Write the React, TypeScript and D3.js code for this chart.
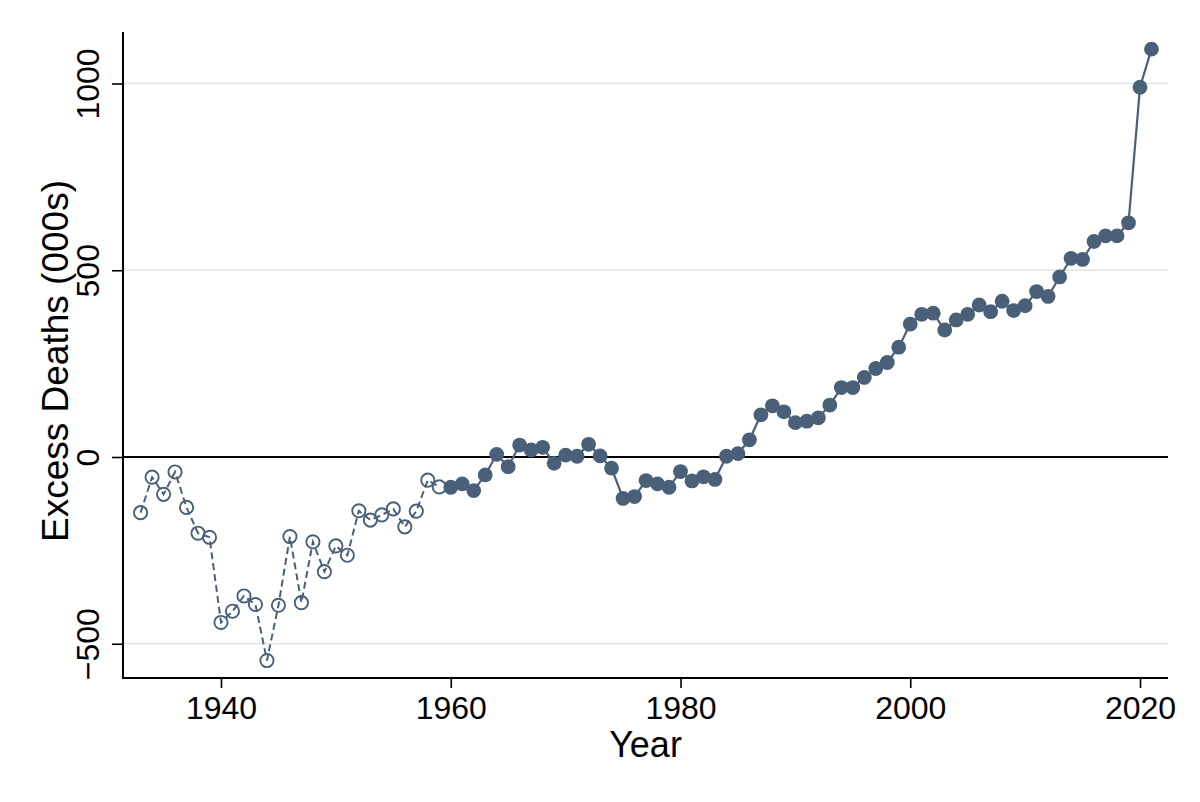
import { useEffect, useRef } from 'react';
import * as d3 from 'd3';

// Early period (hollow markers, dashed line)
const earlyYears = [
  1933, 1934, 1935, 1936, 1937, 1938, 1939, 1940, 1941, 1942, 1943, 1944, 1945, 1946,
  1947, 1948, 1949, 1950, 1951, 1952, 1953, 1954, 1955, 1956, 1957, 1958, 1959,
];
const earlyDeaths = [
  -149, -54, -100, -40, -135, -204, -215, -443, -413, -372, -395, -545, -397, -213,
  -390, -227, -307, -238, -263, -144, -169, -155, -139, -187, -145, -62, -80,
];

// Later period (filled markers, solid line)
const lateYears = [
  1960, 1961, 1962, 1963, 1964, 1965, 1966, 1967, 1968, 1969, 1970, 1971, 1972, 1973,
  1974, 1975, 1976, 1977, 1978, 1979, 1980, 1981, 1982, 1983, 1984, 1985, 1986, 1987,
  1988, 1989, 1990, 1991, 1992, 1993, 1994, 1995, 1996, 1997, 1998, 1999, 2000, 2001,
  2002, 2003, 2004, 2005, 2006, 2007, 2008, 2009, 2010, 2011, 2012, 2013, 2014, 2015,
  2016, 2017, 2018, 2019, 2020, 2021,
];
const lateDeaths = [
  -81, -72, -90, -48, 7, -26, 32, 19, 26, -17, 5, 2, 34, 3,
  -30, -111, -106, -63, -72, -81, -39, -64, -53, -60, 2, 9, 46, 113,
  137, 121, 92, 96, 105, 139, 186, 186, 213, 237, 253, 294, 356, 382,
  385, 340, 367, 382, 407, 389, 417, 392, 405, 443, 430, 482, 532, 529,
  577, 592, 592, 627, 990, 1092,
];

const xTicks = [1940, 1960, 1980, 2000, 2020];
const yTicks = [-500, 0, 500, 1000];
const gridTicks = [-500, 500, 1000];

const COLOR = '#4a6079';
const FONT = '"Liberation Sans", Arial, Helvetica, sans-serif';

interface Point {
  year: number;
  value: number;
}

export default function App() {
  const svgRef = useRef<SVGSVGElement>(null);

  useEffect(() => {
    if (!svgRef.current) return;
    const svg = d3.select(svgRef.current);
    svg.selectAll('*').remove();

    const left = 123, right = 1168, top = 32, bottom = 678;

    const x = d3.scaleLinear().domain([1940, 2020]).range([221, 1140]);
    const y = d3.scaleLinear().domain([0, 1000]).range([457, 83.5]);

    const early: Point[] = earlyYears.map((year, i) => ({ year, value: earlyDeaths[i] }));
    const late: Point[] = lateYears.map((year, i) => ({ year, value: lateDeaths[i] }));

    // grid lines
    svg.append('g')
      .selectAll('line')
      .data(gridTicks)
      .enter()
      .append('line')
      .attr('x1', left)
      .attr('x2', right)
      .attr('y1', d => y(d))
      .attr('y2', d => y(d))
      .attr('stroke', '#e4e4e4')
      .attr('stroke-width', 1.5);

    // zero line
    svg.append('line')
      .attr('x1', left)
      .attr('x2', right)
      .attr('y1', y(0))
      .attr('y2', y(0))
      .attr('stroke', '#000')
      .attr('stroke-width', 2);

    // x axis
    const xAxis = svg.append('g')
      .attr('transform', `translate(0,${bottom})`)
      .call(d3.axisBottom(x).tickValues(xTicks).tickFormat(d3.format('d')).tickSize(10).tickPadding(8))
      .call(g => g.select('.domain').remove());
    xAxis.selectAll('.tick line').attr('stroke', '#000').attr('stroke-width', 1.6);
    xAxis.selectAll('.tick text')
      .style('font-family', FONT)
      .style('font-size', '32px')
      .attr('fill', '#000');
    svg.append('line')
      .attr('x1', left - 1)
      .attr('x2', right)
      .attr('y1', bottom)
      .attr('y2', bottom)
      .attr('stroke', '#000')
      .attr('stroke-width', 2);

    // y axis
    const yAxis = svg.append('g')
      .attr('transform', `translate(${left},0)`)
      .call(d3.axisLeft(y).tickValues(yTicks).tickFormat(d => d3.format('d')(d as number).replace('-', '\u2212')).tickSize(11))
      .call(g => g.select('.domain').remove());
    yAxis.selectAll('.tick line').attr('stroke', '#000').attr('stroke-width', 1.6);
    yAxis.selectAll('.tick text')
      .attr('x', null)
      .attr('dy', null)
      .attr('transform', 'translate(-24,0) rotate(-90)')
      .attr('text-anchor', 'middle')
      .style('font-family', FONT)
      .style('font-size', '32px')
      .attr('fill', '#000');
    svg.append('line')
      .attr('x1', left)
      .attr('x2', left)
      .attr('y1', top)
      .attr('y2', bottom + 1)
      .attr('stroke', '#000')
      .attr('stroke-width', 2);

    // axis titles
    svg.append('text')
      .attr('x', (left + right) / 2)
      .attr('y', 757)
      .attr('text-anchor', 'middle')
      .style('font-family', FONT)
      .style('font-size', '36px')
      .text('Year');

    svg.append('text')
      .attr('transform', `translate(68,${(top + bottom) / 2 + 6}) rotate(-90)`)
      .attr('text-anchor', 'middle')
      .style('font-family', FONT)
      .style('font-size', '37px')
      .text('Excess Deaths (000s)');

    const line = d3.line<Point>()
      .x(d => x(d.year))
      .y(d => y(d.value));

    // early series: dashed line, hollow circles
    svg.append('path')
      .datum(early)
      .attr('fill', 'none')
      .attr('stroke', COLOR)
      .attr('stroke-width', 2)
      .attr('stroke-dasharray', '7,4')
      .attr('d', line);

    svg.append('g')
      .selectAll('circle')
      .data(early)
      .enter()
      .append('circle')
      .attr('cx', d => x(d.year))
      .attr('cy', d => y(d.value))
      .attr('r', 6.6)
      .attr('fill', 'none')
      .attr('stroke', COLOR)
      .attr('stroke-width', 1.9);

    // late series: solid line, filled circles
    svg.append('path')
      .datum(late)
      .attr('fill', 'none')
      .attr('stroke', COLOR)
      .attr('stroke-width', 2.2)
      .attr('d', line);

    svg.append('g')
      .selectAll('circle')
      .data(late)
      .enter()
      .append('circle')
      .attr('cx', d => x(d.year))
      .attr('cy', d => y(d.value))
      .attr('r', 7.4)
      .attr('fill', COLOR);
  }, []);

  return (
    <svg
      ref={svgRef}
      width={1200}
      height={802}
      style={{ position: 'absolute', left: 0, top: 0, background: '#fff' }}
    />
  );
}
